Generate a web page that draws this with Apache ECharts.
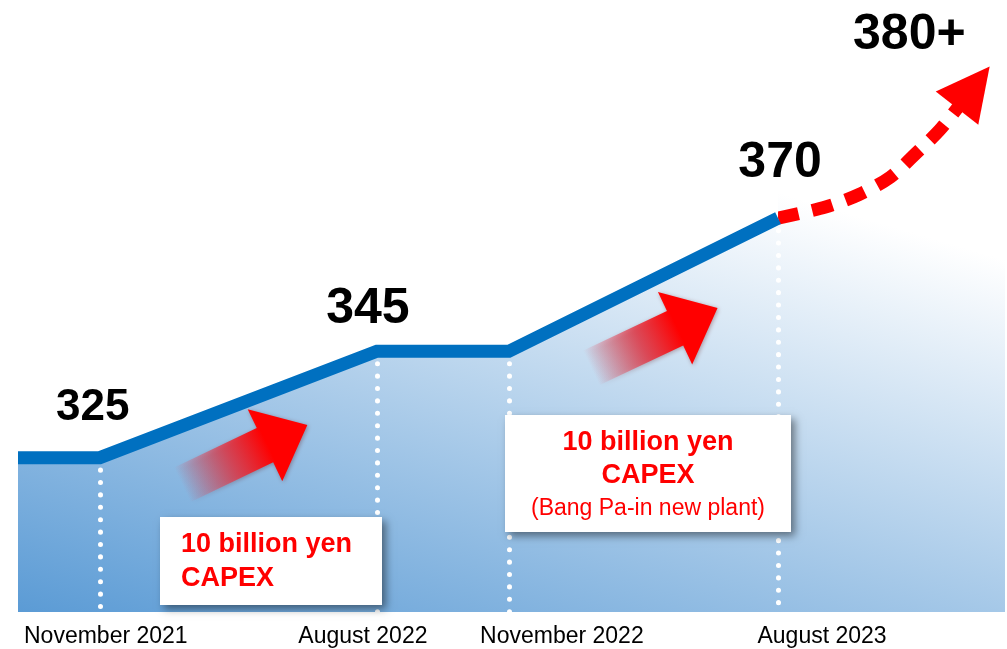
<!DOCTYPE html>
<html>
<head>
<meta charset="utf-8">
<script src="https://cdn.jsdelivr.net/npm/echarts@6/dist/echarts.min.js"></script>
<style>
  html, body { margin: 0; padding: 0; background: #fff; }
  #chart { width: 1007px; height: 649px; }
</style>
</head>
<body>
<div id="chart"></div>
<script>
// periods on the x axis (spacing follows the slide, not calendar)
const periods = ['November 2021', 'August 2022', 'November 2022', 'August 2023'];
const periodPos = [0, 2.1, 3.1, 5.14];
const capacity = [325, 345, 345, 370];
const leadPos = -0.62; // line starts a little before Nov 2021

// dashed outlook after Aug 2023, ends in the arrow head
const outlookX = [5.14, 5.5, 5.75, 5.99, 6.19, 6.38, 6.62];
const outlookY = [370, 372.1, 374.4, 377.7, 382.3, 387, 394.6];
const outlookLabel = '380+';

const FONT = '"Liberation Sans", Arial, sans-serif';

const chart = echarts.init(document.getElementById('chart'));

// which points get a value label, and where the label sits
const labelOffsets = { 0: [-7, -50], 1: [-9, -42], 3: [2, -55] };
const labelSizes = { 0: 44, 1: 50, 3: 50 };

const lineData = [{ value: [leadPos, capacity[0]] }].concat(periodPos.map((x, i) => {
  const item = { value: [x, capacity[i]] };
  if (labelOffsets[i]) {
    item.label = {
      show: true,
      position: 'inside',
      offset: labelOffsets[i],
      formatter: String(capacity[i]),
      fontSize: labelSizes[i]
    };
  }
  return item;
}));

const outlookData = outlookX.map((x, i) => {
  if (i < outlookX.length - 1) return { value: [x, outlookY[i]] };
  return {
    value: [x, outlookY[i]],
    symbol: 'triangle',
    symbolSize: [54, 53],
    symbolRotate: -38,
    label: {
      show: true,
      position: 'inside',
      offset: [-64, -52],
      formatter: outlookLabel,
      fontSize: 50
    }
  };
});

// dotted guides from each step down to the bottom
const guides = periodPos.map((x, i) => [
  { coord: [x, capacity[i]] },
  { coord: [x, 296] }
]);

// fat gradient arrow, drawn pointing right then rotated
function bigArrow(tx, ty, len, angle) {
  const hb = len - 47;
  return {
    type: 'polygon',
    x: tx, y: ty,
    rotation: angle,
    z: 50,
    silent: true,
    shape: {
      points: [[0, -19], [hb, -19], [hb, -40], [len, 0], [hb, 40], [hb, 19], [0, 19]]
    },
    style: {
      fill: new echarts.graphic.LinearGradient(0, 0, 1, 0, [
        { offset: 0, color: 'rgba(235,70,90,0)' },
        { offset: 0.4, color: 'rgba(230,50,65,0.8)' },
        { offset: 0.68, color: '#ff0000' },
        { offset: 1, color: '#ff0000' }
      ]),
      shadowBlur: 4,
      shadowColor: 'rgba(90,0,0,0.35)',
      shadowOffsetX: 1,
      shadowOffsetY: 1
    }
  };
}

function box(x, y, w, h) {
  return {
    type: 'rect', z: 60, silent: true,
    shape: { x: x, y: y, width: w, height: h },
    style: {
      fill: '#fff',
      shadowBlur: 8,
      shadowOffsetX: 4,
      shadowOffsetY: 4,
      shadowColor: 'rgba(0,0,0,0.45)'
    }
  };
}

function txt(text, x, y, size, bold, align) {
  return {
    type: 'text', z: 61, silent: true,
    x: x, y: y,
    style: {
      text: text,
      fill: '#ff0000',
      font: (bold ? 'bold ' : '') + size + 'px ' + FONT,
      align: align,
      verticalAlign: 'middle'
    }
  };
}

const labelShift = [12, -28, 106, 88];
const rich = {};
labelShift.forEach((s, i) => {
  rich['p' + i] = {
    fontSize: 23, fontFamily: FONT, color: '#000',
    padding: s >= 0 ? [0, 0, 0, s] : [0, -s, 0, 0]
  };
});

chart.setOption({
  animation: false,
  textStyle: { fontFamily: FONT },
  grid: { left: 18, right: 2, top: 0, bottom: 37 },
  xAxis: {
    type: 'value',
    min: leadPos,
    max: 6.86,
    axisLine: { show: false },
    axisTick: { show: false },
    splitLine: { show: false },
    axisLabel: {
      customValues: periodPos,
      margin: 13,
      formatter: function (v) {
        const i = periodPos.indexOf(v);
        return i < 0 ? '' : '{p' + i + '|' + periods[i] + '}';
      },
      rich: rich
    }
  },
  yAxis: { type: 'value', min: 296, max: 411, show: false },
  graphic: [
    {
      type: 'rect', z: -1, silent: true,
      shape: { x: 18, y: 0, width: 987, height: 612 },
      style: {
        fill: new echarts.graphic.LinearGradient(18, 612, 194, 19, [
          { offset: 0, color: '#5b9bd5' },
          { offset: 1, color: '#ffffff' }
        ], true)
      }
    },
    bigArrow(182, 485, 139, 0.447),
    bigArrow(591, 368, 140, 0.442),
    box(160, 517, 222, 88),
    txt('10 billion yen', 181, 545, 27, true, 'left'),
    txt('CAPEX', 181, 579, 27, true, 'left'),
    box(505, 415, 286, 117),
    txt('10 billion yen', 648, 443, 27, true, 'center'),
    txt('CAPEX', 648, 476, 27, true, 'center'),
    txt('(Bang Pa-in new plant)', 648, 509, 23, false, 'center')
  ],
  series: [
    {
      name: 'outlook',
      type: 'line',
      z: 3,
      smooth: 0.3,
      symbol: 'none',
      data: outlookData,
      itemStyle: { color: '#ff0000' },
      lineStyle: { color: '#ff0000', width: 13, type: [21, 14], cap: 'butt' },
      label: { color: '#000', fontWeight: 'bold', fontFamily: FONT }
    },
    {
      name: 'capacity',
      type: 'line',
      z: 4,
      symbol: 'circle',
      symbolSize: 1,
      showSymbol: true,
      itemStyle: { color: 'rgba(0,0,0,0)' },
      data: lineData,
      lineStyle: { color: '#0070c0', width: 13, cap: 'butt', join: 'miter' },
      areaStyle: { color: '#ffffff', opacity: 1, origin: 'end' },
      label: { color: '#000', fontWeight: 'bold', fontFamily: FONT },
      markLine: {
        z: 1,
        silent: true,
        symbol: ['none', 'none'],
        label: { show: false },
        lineStyle: { color: '#ffffff', width: 5, type: [0.1, 12.3], cap: 'round', opacity: 1 },
        data: guides
      }
    }
  ]
});
</script>
</body>
</html>
